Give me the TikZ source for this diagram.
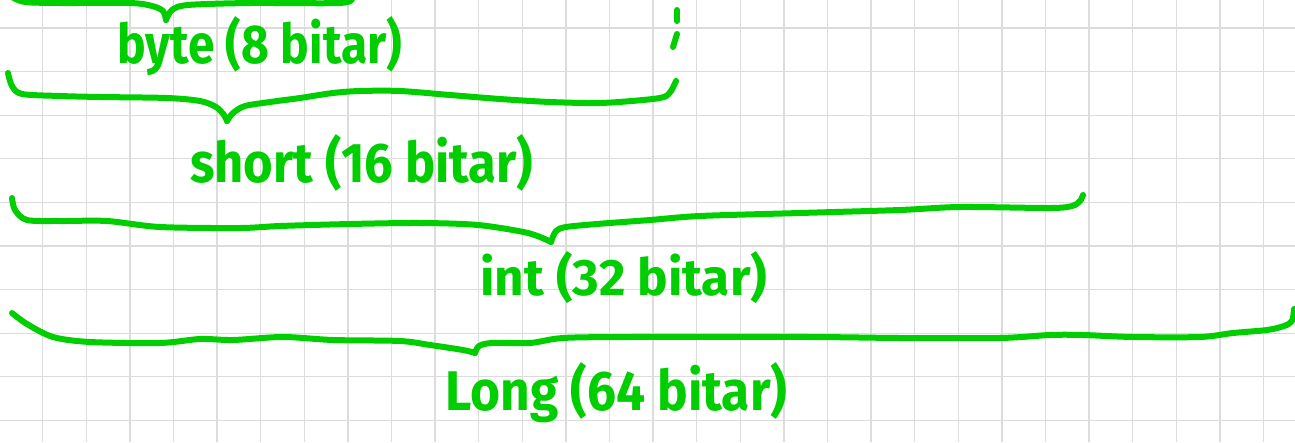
\documentclass[tikz,border=0pt]{standalone}
\usepackage{fontspec}
\setmainfont{Fira Sans}
\usepackage{graphicx}
\definecolor{marker}{RGB}{0,206,0}
\definecolor{gridline}{RGB}{220,220,220}
% handwritten-style label squeezed to a given width and height (in pt)
\newcommand{\hand}[3]{\resizebox{#1pt}{#2pt}{\bfseries #3}}
\begin{document}
\begin{tikzpicture}[x=1pt,y=-1pt,
  pen/.style={draw=marker, line width=6pt, line cap=round, line join=round},
  hwtext/.style={inner sep=0pt, anchor=base west, text=marker}]
\useasboundingbox (0,0) rectangle (1295,442);
\fill[white] (0,0) rectangle (1295,442);

% squared paper
\foreach \k in {0,...,29} {
  \draw[gridline, line width=1.3pt] ({-0.9+43.6*\k},0) -- ({-0.9+43.6*\k},442);
}
\foreach \k in {0,...,9} {
  \draw[gridline, line width=1.3pt] (0,{28+43.6*\k}) -- (1295,{28+43.6*\k});
}

% brace above byte (cut at the top edge)
\draw[pen] plot[smooth, tension=0.5] coordinates {(12,-3) (25,2) (60,3) (130,3) (152,6) (163,11) (166,20)};
\draw[pen] plot[smooth, tension=0.5] coordinates {(166,20) (172,10) (188,5) (250,3) (340,3) (352,-2)};

% byte -> short
\draw[pen] plot[smooth, tension=0.5] coordinates {(8,73) (12,86) (22,94) (60,96) (100,97) (167,98) (200,101) (216,107) (224,115) (227,121)};
\draw[pen] plot[smooth, tension=0.5] coordinates {(227,121) (233,113) (245,106) (270,102) (300,98) (333,93) (360,91) (400,91) (450,95) (500,99) (550,102) (600,103) (643,100) (664,97) (671,91) (676,81)};

% vertical dots
\draw[pen] (677,10) -- (677,21);
\draw[pen] (677,34) -- (673,47);

% short -> int
\draw[pen] plot[smooth, tension=0.5] coordinates {(12,198) (15,210) (27,220) (60,221) (107,221) (160,227) (240,228) (280,226) (350,224) (420,223) (478,225) (528,233) (551,242)};
\draw[pen] plot[smooth, tension=0.5] coordinates {(551,242) (556,231) (566,227) (597,224) (650,220) (700,216) (800,213) (900,210) (960,207) (1050,208) (1072,206) (1080,201) (1083,195)};

% int -> long
\draw[pen] plot[smooth, tension=0.5] coordinates {(12,313) (27,324) (53,337) (90,342) (160,343) (200,339) (233,340) (283,337) (333,340) (400,341) (430,345) (463,350) (475,353)};
\draw[pen] plot[smooth, tension=0.5] coordinates {(475,353) (479,346) (492,343) (530,343) (563,338) (630,337) (810,337) (900,338) (1000,338) (1050,335) (1083,335) (1133,337) (1200,337) (1233,333) (1267,330) (1284,326) (1292,321) (1294,309)};

% labels
\node[hwtext] (byte)  at (117,63)  {\hand{285}{47}{byte (8 bitar)}};
\node[hwtext] (short) at (190,182) {\hand{343}{48}{short (16 bitar)}};
\node[hwtext] (int)   at (480,295) {\hand{287}{44}{int (32 bitar)}};
\node[hwtext] (long)  at (445,410) {\hand{342}{48}{Long (64 bitar)}};
\end{tikzpicture}
\end{document}
